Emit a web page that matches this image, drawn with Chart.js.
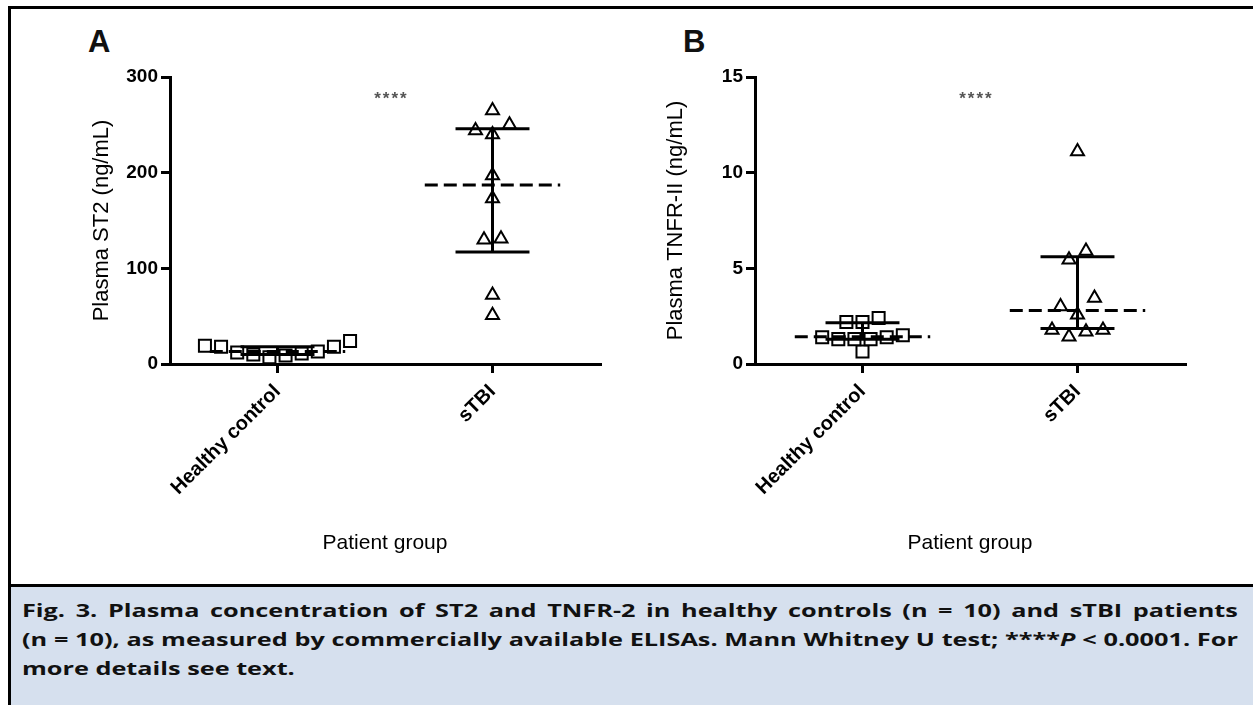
<!DOCTYPE html>
<html>
<head>
<meta charset="utf-8">
<script src="https://cdn.jsdelivr.net/npm/chart.js@4.4.0/dist/chart.umd.min.js"></script>
<style>
  html, body { margin: 0; padding: 0; background: #fff; }
  body { width: 1253px; height: 705px; position: relative; overflow: hidden; font-family: "Liberation Sans", Arial, sans-serif; }
  #frame { position: absolute; left: 8px; top: 6px; width: 1250px; height: 581px; box-sizing: border-box;
           border-top: 3px solid #000; border-left: 3px solid #000; border-bottom: 3px solid #000; }
  #cap { position: absolute; left: 8px; top: 587px; width: 1245px; height: 118px; box-sizing: border-box;
         border-left: 3px solid #000; background: #d6e0ee; }
  #cap .ln { position: absolute; left: 11px; width: 866px; font-family: "Open Sans", sans-serif; font-weight: bold;
             font-size: 18px; line-height: 29px; color: #111; transform: scaleX(1.404); transform-origin: 0 0; }
  #cap .j { text-align: justify; text-align-last: justify; }
  .panel { position: absolute; font-weight: bold; font-size: 31px; line-height: 31px; color: #111; }
  canvas { position: absolute; }
</style>
</head>
<body>
<div id="frame"></div>
<div class="panel" style="left:88px; top:26px;">A</div>
<div class="panel" style="left:683px; top:26px;">B</div>
<canvas id="chartA" width="560" height="540" style="left:80px; top:20px;"></canvas>
<canvas id="chartB" width="570" height="540" style="left:655px; top:20px;"></canvas>
<div id="cap">
  <div class="ln j" style="top:9px;">Fig. 3. Plasma concentration of ST2 and TNFR-2 in healthy controls (n&nbsp;=&nbsp;10) and sTBI patients</div>
  <div class="ln j" style="top:38px;">(n&nbsp;=&nbsp;10), as measured by commercially available ELISAs. Mann Whitney U test; ****<i>P</i>&nbsp;&lt;&nbsp;0.0001. For</div>
  <div class="ln" style="top:67px;">more details see text.</div>
</div>
<script>
// groups on the x axis
const groups = ['Healthy control', 'sTBI'];

// panel A: plasma ST2 (ng/mL)
const st2Healthy = [19, 18, 12, 10, 7, 9, 11, 13, 18, 24];
const st2Stbi = [265, 250, 244, 240, 197, 173, 131, 130, 72, 51];
const st2Median = [13, 187];
const st2Low = [10, 117];
const st2High = [18, 246];
const st2Ticks = [0, 100, 200, 300];

// panel B: plasma TNFR-II (ng/mL)
const tnfHealthy = [2.2, 2.2, 2.4, 1.4, 1.3, 1.4, 1.3, 1.3, 1.5, 0.65];
const tnfStbi = [11.1, 5.9, 5.45, 3.45, 3.0, 2.57, 1.78, 1.42, 1.68, 1.78];
const tnfMedian = [1.42, 2.8];
const tnfLow = [1.3, 1.85];
const tnfHigh = [2.15, 5.6];
const tnfTicks = [0, 5, 10, 15];

Chart.defaults.font.family = '"Liberation Sans", Arial, sans-serif';
Chart.defaults.color = '#000';

// prism-like scatter: points with close values share a row, smallest in the middle
function spread(values, center, rowGap, step) {
  const idx = values.map((v, i) => i).sort((a, b) => values[a] - values[b]);
  const rows = [];
  idx.forEach(i => {
    const row = rows[rows.length - 1];
    if (row && values[i] - values[row[row.length - 1]] < rowGap) row.push(i);
    else rows.push([i]);
  });
  const pts = [];
  rows.forEach(row => {
    const slots = row.map((_, k) => k - (row.length - 1) / 2);
    slots.sort((a, b) => Math.abs(a) - Math.abs(b) || a - b);
    row.forEach((i, k) => pts.push({x: center + slots[k] * step, y: values[i]}));
  });
  return pts;
}

function seg(x1, y1, x2, y2, dash) {
  return {
    type: 'line', data: [{x: x1, y: y1}, {x: x2, y: y2}],
    borderColor: '#000', borderWidth: 3, borderDash: dash || [],
    pointRadius: 0, clip: false, order: 0
  };
}

function summaryLines(medians, lows, highs) {
  const out = [];
  medians.forEach((m, i) => {
    const c = i + 1;
    out.push(seg(c, lows[i], c, highs[i]));
    out.push(seg(c - 0.172, highs[i], c + 0.172, highs[i]));
    out.push(seg(c - 0.172, lows[i], c + 0.172, lows[i]));
    out.push(seg(c - 0.315, m, c + 0.315, m, [13, 6]));
  });
  return out;
}

const starText = {
  id: 'starText',
  afterDraw(chart, args, opts) {
    const {ctx, scales} = chart;
    ctx.save();
    ctx.font = 'bold 17px "Liberation Sans"';
    ctx.fillStyle = '#555';
    ctx.textAlign = 'center';
    ctx.textBaseline = 'middle';
    ctx.letterSpacing = '2px';
    ctx.fillText(opts.text, scales.x.getPixelForValue(opts.x), scales.y.getPixelForValue(opts.y));
    ctx.restore();
  }
};

function makeChart(id, cfg) {
  const axisGrid = {drawOnChartArea: false, color: '#000', lineWidth: 3, tickLength: 9};
  return new Chart(document.getElementById(id), {
    type: 'scatter',
    data: {
      datasets: [
        {data: spread(cfg.healthy, 1, cfg.rowGap, 0.075), pointStyle: 'rect', pointRadius: 8.5,
         borderWidth: 2, borderColor: '#000', backgroundColor: '#fff', clip: false, order: 1},
        {data: spread(cfg.stbi, 2, cfg.rowGap, 0.079), pointStyle: 'triangle', pointRadius: 7.5,
         borderWidth: 2, borderColor: '#000', backgroundColor: '#fff', clip: false, order: 1},
        ...summaryLines(cfg.median, cfg.low, cfg.high)
      ]
    },
    options: {
      responsive: false,
      animation: false,
      devicePixelRatio: 1,
      layout: {padding: {left: cfg.padLeft, top: 57, right: 40, bottom: 0}},
      plugins: {
        legend: {display: false},
        tooltip: {enabled: false},
        starText: {text: '****', x: 1.53, y: cfg.starY}
      },
      scales: {
        x: {
          type: 'linear', min: 0.5, max: 2.5,
          afterBuildTicks: s => { s.ticks = groups.map((g, i) => ({value: i + 1})); },
          afterFit: s => { s.height = 196; },
          border: {color: '#000', width: 3},
          grid: axisGrid,
          ticks: {
            callback: (v, i) => groups[i],
            minRotation: 45, maxRotation: 45, padding: 7,
            font: {size: 20, weight: 'bold'}, color: '#000'
          },
          title: {display: true, text: 'Patient group', font: {size: 21}, color: '#000', padding: {top: 0, bottom: 4}}
        },
        y: {
          min: 0, max: cfg.ticks[cfg.ticks.length - 1],
          afterBuildTicks: s => { s.ticks = cfg.ticks.map(v => ({value: v})); },
          afterFit: s => { s.width = cfg.yWidth; },
          border: {color: '#000', width: 3},
          grid: axisGrid,
          ticks: {font: {size: 19, weight: 'bold'}, color: '#000', padding: 3},
          title: {display: true, text: cfg.title, font: {size: 22}, color: '#000', padding: {top: 4, bottom: 0}}
        }
      }
    },
    plugins: [starText]
  });
}

makeChart('chartA', {
  healthy: st2Healthy, stbi: st2Stbi, median: st2Median, low: st2Low, high: st2High,
  ticks: st2Ticks, rowGap: 12.5, starY: 277, title: 'Plasma ST2 (ng/mL)', padLeft: 5, yWidth: 85
});

makeChart('chartB', {
  healthy: tnfHealthy, stbi: tnfStbi, median: tnfMedian, low: tnfLow, high: tnfHigh,
  ticks: tnfTicks, rowGap: 0.6, starY: 13.85, title: 'Plasma TNFR-II (ng/mL)', padLeft: 4, yWidth: 96
});
</script>
</body>
</html>
